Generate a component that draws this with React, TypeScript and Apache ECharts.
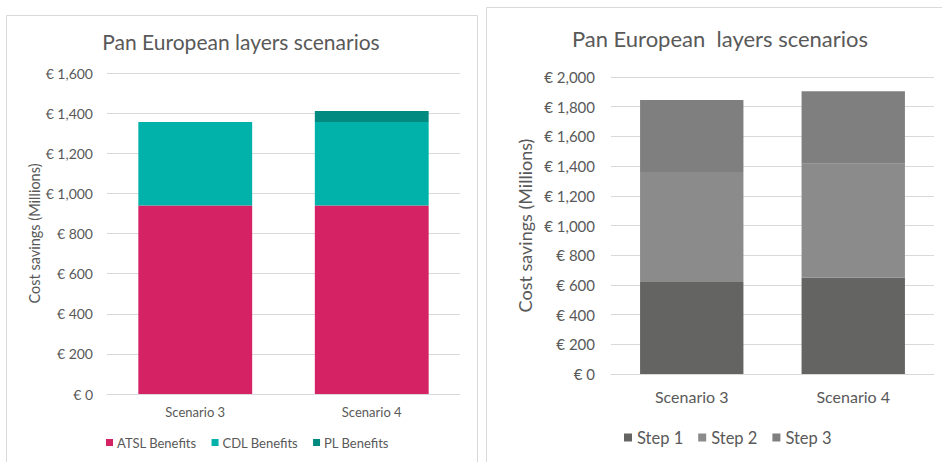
import React, { useEffect, useRef } from "react";
import * as echarts from "echarts";

const categories = ["Scenario 3", "Scenario 4"];
const atslBenefits = [940, 940];
const cdlBenefits = [416, 416];
const plBenefits = [0, 55];
const step1 = [620, 650];
const step2 = [740, 766];
const step3 = [485, 488];
const titleText = "Pan European layers scenarios";
const titleTextRight = "Pan European  layers scenarios";
const yName = "Cost savings (Millions)";

const FONT = "Lato, 'Open Sans', sans-serif";
const TXT = "#595959";
const GRID = "#d9d9d9";

const euro = (v: number) => "€ " + v.toLocaleString("en-US");

export default function App() {
  const ref = useRef<HTMLDivElement>(null);
  useEffect(() => {
    document.body.style.margin = "0";
    const chart = echarts.init(ref.current!, null, { renderer: "svg" });
    chart.setOption({
      animation: false,
      backgroundColor: "#ffffff",
      textStyle: { fontFamily: FONT },
      graphic: [
        { type: "rect", shape: { x: 6.5, y: 15.5, width: 471, height: 460 }, style: { fill: "none", stroke: GRID, lineWidth: 1 }, silent: true },
        { type: "rect", shape: { x: 486.5, y: 7.5, width: 470, height: 470 }, style: { fill: "none", stroke: GRID, lineWidth: 1 }, silent: true },
        { type: "text", x: 241, y: 41, style: { text: titleText, fill: TXT, font: `21px ${FONT}`, textAlign: "center", textVerticalAlign: "middle" } },
        { type: "text", x: 720, y: 38, style: { text: titleTextRight, fill: TXT, font: `22px ${FONT}`, textAlign: "center", textVerticalAlign: "middle" } },
      ],
      legend: [
        {
          left: 101, top: 431, itemWidth: 7, itemHeight: 7, itemGap: 15, icon: "rect",
          textStyle: { color: TXT, fontSize: 13, fontFamily: FONT, padding: [0, 0, 0, -1] },
          data: ["ATSL Benefits", "CDL Benefits", "PL Benefits"],
        },
        {
          left: 619, top: 424, itemWidth: 8, itemHeight: 8, itemGap: 15, icon: "rect",
          textStyle: { color: TXT, fontSize: 16.5, fontFamily: FONT, padding: [0, 0, 0, 0] },
          data: ["Step 1", "Step 2", "Step 3"],
        },
      ],
      grid: [
        { left: 107, right: 482, top: 73, bottom: 68 },
        { left: 611, right: 8, top: 77, bottom: 88 },
      ],
      xAxis: [
        {
          type: "category", gridIndex: 0, data: categories,
          axisLine: { lineStyle: { color: GRID } }, axisTick: { show: false },
          axisLabel: { color: TXT, fontSize: 13, margin: 11, fontFamily: FONT },
        },
        {
          type: "category", gridIndex: 1, data: categories,
          axisLine: { lineStyle: { color: GRID } }, axisTick: { show: false },
          axisLabel: { color: TXT, fontSize: 16, margin: 14, fontFamily: FONT },
        },
      ],
      yAxis: [
        {
          type: "value", gridIndex: 0, min: 0, max: 1600, interval: 200,
          name: yName, nameLocation: "middle", nameGap: 60,
          nameTextStyle: { color: TXT, fontSize: 14.5, fontFamily: FONT },
          axisLine: { show: false }, axisTick: { show: false },
          axisLabel: { color: TXT, fontSize: 14, margin: 14, formatter: euro, fontFamily: FONT },
          splitLine: { lineStyle: { color: GRID } },
        },
        {
          type: "value", gridIndex: 1, min: 0, max: 2000, interval: 200,
          name: yName, nameLocation: "middle", nameGap: 77,
          nameTextStyle: { color: TXT, fontSize: 18, fontFamily: FONT },
          axisLine: { show: false }, axisTick: { show: false },
          axisLabel: { color: TXT, fontSize: 15, margin: 16, formatter: euro, fontFamily: FONT },
          splitLine: { lineStyle: { color: GRID } },
        },
      ],
      series: [
        { name: "ATSL Benefits", type: "bar", stack: "a", xAxisIndex: 0, yAxisIndex: 0, data: atslBenefits, barWidth: "64.5%", itemStyle: { color: "#d52264" } },
        { name: "CDL Benefits", type: "bar", stack: "a", xAxisIndex: 0, yAxisIndex: 0, data: cdlBenefits, itemStyle: { color: "#00b2a9" } },
        { name: "PL Benefits", type: "bar", stack: "a", xAxisIndex: 0, yAxisIndex: 0, data: plBenefits, itemStyle: { color: "#008a80" } },
        { name: "Step 1", type: "bar", stack: "b", xAxisIndex: 1, yAxisIndex: 1, data: step1, barWidth: "64%", itemStyle: { color: "#646562" } },
        { name: "Step 2", type: "bar", stack: "b", xAxisIndex: 1, yAxisIndex: 1, data: step2, itemStyle: { color: "#8b8b8b" } },
        { name: "Step 3", type: "bar", stack: "b", xAxisIndex: 1, yAxisIndex: 1, data: step3, itemStyle: { color: "#7f7f7f" } },
      ],
    });
    return () => chart.dispose();
  }, []);
  return <div ref={ref} style={{ position: "absolute", left: 0, top: 0, width: 942, height: 462 }} />;
}
